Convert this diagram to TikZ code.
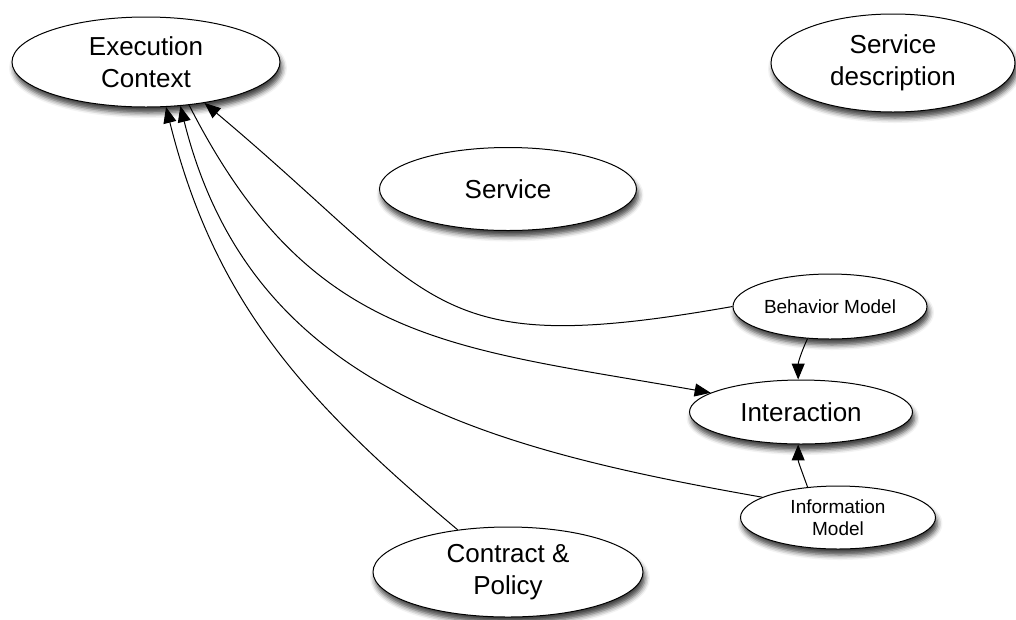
\documentclass[tikz,border=0pt]{standalone}
\usepackage{fontspec}
\setmainfont{Liberation Sans}
\usepackage{tikz}
\usetikzlibrary{shapes.geometric, arrows.meta, positioning, shadows.blur}

\tikzset{
  concept/.style = {
    ellipse, draw, fill = white, line width = 1pt, inner sep = 0pt,
    align = center, font = \fontsize{26}{32}\selectfont,
    blur shadow = {shadow xshift = 2pt, shadow yshift = -6pt,
      shadow blur radius = 5pt, shadow opacity = 75}},
  minor/.style = {concept, font = \fontsize{19}{22}\selectfont},
  link/.style = {line width = 1pt, -{Triangle[length=16pt,width=13pt]}}
}

\begin{document}
\begin{tikzpicture}[x = 1pt, y = -1pt]
  \useasboundingbox (0,0) rectangle (1016,619);

  \node [concept, minimum width = 268pt, minimum height = 90pt] (exec)
    at (146,62) {Execution\\Context};
  \node [concept, minimum width = 244pt, minimum height = 98pt] (description)
    at (893,63) {Service\\description};
  \node [concept, minimum width = 257pt, minimum height = 83pt] (service)
    at (508,189) {Service};
  \node [concept, minimum width = 223pt, minimum height = 64pt] (interaction)
    at (801,412) {Interaction};
  \node [minor, minimum width = 194pt, minimum height = 65pt,
    above = 40pt of interaction, xshift = 29pt] (behavior) {Behavior Model};
  \node [minor, minimum width = 195pt, minimum height = 63pt,
    below = 41pt of interaction, xshift = 37pt] (information) {Information\\Model};
  \node [concept, minimum width = 270pt, minimum height = 90pt] (contract)
    at (508,572) {Contract \&\\Policy};

  % dependencies on the execution context
  \draw [link] (contract.140) to [out = 140, in = -76] (exec.-66);
  \draw [link] (information.165) to [out = 170, in = -76, looseness = 1.05]
    (exec.-52);
  \draw [link] (exec.-45) to [out = -63, in = 170, looseness = 1.15]
    (interaction.168);
  \draw [link] (behavior.west) to [out = 190, in = -40, looseness = 1.4]
    (exec.-35);

  % models feeding the interaction
  \draw [link] (behavior.-125) to [out = -115, in = 90] (interaction.95);
  \draw [link] (information.135) to [out = 110, in = -90] (interaction.-95);
\end{tikzpicture}
\end{document}
